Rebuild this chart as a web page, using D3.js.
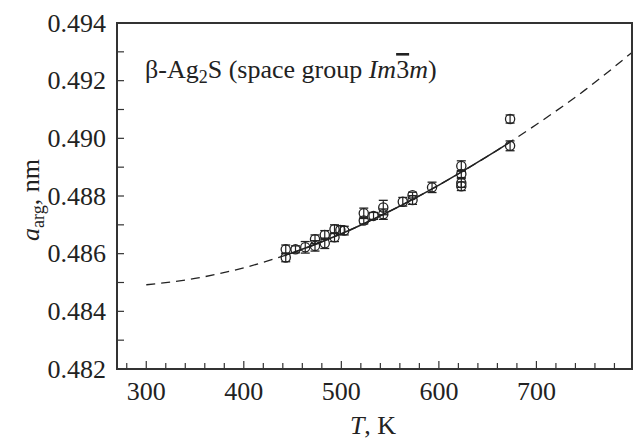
<!DOCTYPE html>
<html lang="en">
<head>
  <title>beta-Ag2S lattice parameter</title>
  <meta charset="utf-8"/>
  <script src="https://d3js.org/d3.v7.min.js"></script>
  <style>
    body { margin: 0; background: #fff; }
  </style>
</head>
<body>
<svg id="chart" width="640" height="439"></svg>

<script type="text/javascript">
  // measured points: temperature, lattice parameter, error
  const temps  = [443, 443, 453, 463, 473, 473, 483, 483, 493, 493, 499, 503,
                  523, 523, 533, 543, 543, 563, 573, 573, 593, 623, 623, 623, 623, 673, 673];
  const aArg   = [0.48615, 0.48587, 0.48615, 0.48622, 0.48650, 0.48627, 0.48665, 0.48636,
                  0.48685, 0.48657, 0.48682, 0.48680, 0.48740, 0.48715, 0.48731, 0.48760,
                  0.48737, 0.48780, 0.48803, 0.48786, 0.48830, 0.48904, 0.48876, 0.48845,
                  0.48834, 0.49067, 0.48974];
  const errs   = [0.00015, 0.00015, 0.00012, 0.00020, 0.00015, 0.00018, 0.00015, 0.00018,
                  0.00015, 0.00015, 0.00015, 0.00015, 0.00018, 0.00012, 0.00012, 0.00025,
                  0.00018, 0.00015, 0.00010, 0.00015, 0.00018, 0.00018, 0.00012, 0.00015,
                  0.00015, 0.00014, 0.00017];

  // fitted curve
  const curveT = [300, 350, 400, 450, 500, 550, 600, 650, 700, 750, 798];
  const curveA = [0.48492, 0.48514, 0.48551, 0.48603, 0.48669, 0.48748, 0.48838,
                  0.48938, 0.49048, 0.49168, 0.49298];
  const solidFrom = 443, solidTo = 673;

  const xTicks = [300, 400, 500, 600, 700];
  const yTicks = [0.482, 0.484, 0.486, 0.488, 0.490, 0.492, 0.494];

  const serif = "'Liberation Serif', 'Times New Roman'";
  const ink = "#222";

  const svg = d3.select("#chart");
  const pLeft = 117, pRight = 632, pTop = 23, pBottom = 369;

  const x = d3.scaleLinear().domain([270, 798]).range([pLeft, pRight]);
  const y = d3.scaleLinear().domain([0.482, 0.494]).range([pBottom, pTop]);

  // minor ticks, inside
  const xMinor = d3.range(280, 798, 20);
  const yMinor = d3.range(0.483, 0.4935, 0.001);

  svg.append("g").selectAll("line").data(xMinor).enter().append("line")
    .attr("x1", d => x(d)).attr("x2", d => x(d))
    .attr("y1", pBottom).attr("y2", d => (d % 100 === 0) ? pBottom - 8 : pBottom - 6)
    .attr("stroke", "#333").attr("stroke-width", 1.2);

  svg.append("g").selectAll("line").data(yMinor).enter().append("line")
    .attr("x1", pLeft).attr("x2", pLeft + 7)
    .attr("y1", d => y(d)).attr("y2", d => y(d))
    .attr("stroke", "#333").attr("stroke-width", 1.2);

  // tick labels
  svg.append("g").selectAll("text").data(xTicks).enter().append("text")
    .attr("x", d => x(d)).attr("y", 400)
    .attr("text-anchor", "middle")
    .style("font-family", serif)
    .style("font-size", "26px")
    .attr("fill", ink)
    .text(d => d);

  svg.append("g").selectAll("text").data(yTicks).enter().append("text")
    .attr("x", 106).attr("y", d => y(d) + 8.5)
    .attr("text-anchor", "end")
    .style("font-family", serif)
    .style("font-size", "26px")
    .attr("fill", ink)
    .text(d => d3.format(".3f")(d));

  // curve: dashed everywhere, solid over the measured range
  const line = d3.line()
    .x((d, i) => x(curveT[i]))
    .y(d => y(d))
    .curve(d3.curveMonotoneX);

  svg.append("path")
    .attr("d", line(curveA))
    .attr("fill", "none")
    .attr("stroke", ink)
    .attr("stroke-width", 1.3)
    .attr("stroke-dasharray", "9,6");

  svg.append("clipPath").attr("id", "solidClip")
    .append("rect")
    .attr("x", x(solidFrom)).attr("y", pTop)
    .attr("width", x(solidTo) - x(solidFrom)).attr("height", pBottom - pTop);

  svg.append("path")
    .attr("d", line(curveA))
    .attr("clip-path", "url(#solidClip)")
    .attr("fill", "none")
    .attr("stroke", ink)
    .attr("stroke-width", 1.5);

  // error bars and circles
  const pts = svg.append("g").selectAll("g").data(temps).enter().append("g");

  pts.append("line")
    .attr("x1", d => x(d)).attr("x2", d => x(d))
    .attr("y1", (d, i) => y(aArg[i] - errs[i]))
    .attr("y2", (d, i) => y(aArg[i] + errs[i]))
    .attr("stroke", ink).attr("stroke-width", 1.2);

  pts.each(function(d, i) {
    const g = d3.select(this);
    [aArg[i] - errs[i], aArg[i] + errs[i]].forEach(v => {
      g.append("line")
        .attr("x1", x(d) - 4.5).attr("x2", x(d) + 4.5)
        .attr("y1", y(v)).attr("y2", y(v))
        .attr("stroke", ink).attr("stroke-width", 1.3);
    });
  });

  pts.append("circle")
    .attr("cx", d => x(d))
    .attr("cy", (d, i) => y(aArg[i]))
    .attr("r", 4.6)
    .attr("fill", "none")
    .attr("stroke", ink)
    .attr("stroke-width", 1.3);

  // frame
  svg.append("rect")
    .attr("x", pLeft).attr("y", pTop)
    .attr("width", pRight - pLeft).attr("height", pBottom - pTop)
    .attr("fill", "none")
    .attr("stroke", "#333")
    .attr("stroke-width", 2);

  // annotation
  const note = svg.append("text")
    .attr("x", 145).attr("y", 78)
    .style("font-family", serif)
    .style("font-size", "26px")
    .attr("fill", ink);
  note.append("tspan").text("β-Ag");
  note.append("tspan").attr("dy", 5).style("font-size", "18px").text("2");
  note.append("tspan").attr("dy", -5).text("S (space group ");
  note.append("tspan").style("font-style", "italic").text("Im");
  note.append("tspan").style("text-decoration", "overline").text("3");
  note.append("tspan").style("font-style", "italic").text("m");
  note.append("tspan").text(")");

  // axis titles
  const xt = svg.append("text")
    .attr("x", 373).attr("y", 434)
    .attr("text-anchor", "middle")
    .style("font-family", serif)
    .style("font-size", "26px")
    .attr("fill", ink);
  xt.append("tspan").style("font-style", "italic").text("T");
  xt.append("tspan").text(", K");

  const yt = svg.append("text")
    .attr("transform", "translate(39,200) rotate(-90)")
    .attr("text-anchor", "middle")
    .style("font-family", serif)
    .style("font-size", "26px")
    .attr("fill", ink);
  yt.append("tspan").style("font-style", "italic").text("a");
  yt.append("tspan").attr("dy", 5).style("font-size", "18px").text("arg");
  yt.append("tspan").attr("dy", -5).text(", nm");
</script>
</body>
</html>
